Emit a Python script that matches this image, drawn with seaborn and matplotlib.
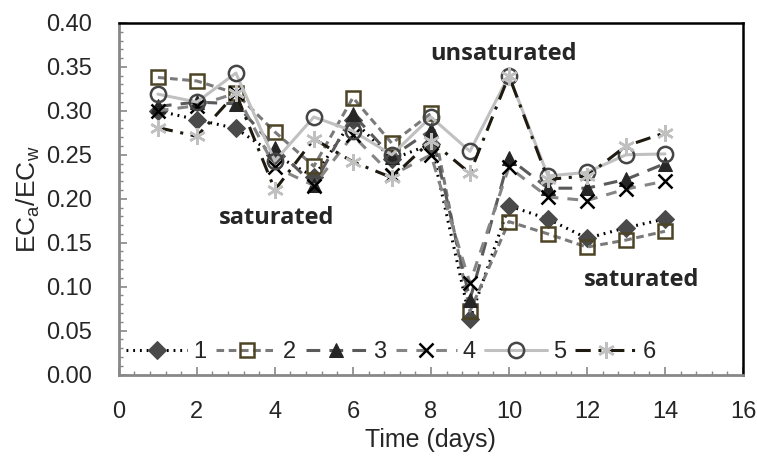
import matplotlib
matplotlib.use("Agg")
import matplotlib.pyplot as plt
from matplotlib.ticker import MultipleLocator, FormatStrFormatter
import seaborn as sns
import pandas as pd

days = [1, 2, 3, 4, 5, 6, 7, 8, 9, 10, 11, 12, 13, 14]
s1 = [0.300, 0.290, 0.280, 0.250, 0.225, 0.290, 0.245, 0.262, 0.063, 0.192, 0.177, 0.155, 0.167, 0.177]
s2 = [0.338, 0.334, 0.320, 0.276, 0.237, 0.315, 0.263, 0.297, 0.072, 0.174, 0.160, 0.145, 0.153, 0.163]
s3 = [0.305, 0.310, 0.308, 0.258, 0.216, 0.296, 0.248, 0.278, 0.085, 0.246, 0.212, 0.212, 0.222, 0.240]
s4 = [0.300, 0.306, 0.320, 0.236, 0.215, 0.272, 0.227, 0.250, 0.104, 0.236, 0.202, 0.198, 0.211, 0.220]
s5 = [0.319, 0.310, 0.343, 0.243, 0.293, 0.277, 0.250, 0.293, 0.254, 0.340, 0.226, 0.230, 0.250, 0.251]
s6 = [0.281, 0.271, 0.320, 0.210, 0.268, 0.242, 0.224, 0.266, 0.229, 0.340, 0.222, 0.226, 0.260, 0.275]
labels = ["1", "2", "3", "4", "5", "6"]

sns.set_theme(style="white")
plt.rcParams["font.family"] = ["Liberation Sans", "DejaVu Sans"]

fig = plt.figure(figsize=(7.57, 4.59), dpi=100)
ax = fig.add_axes([0.157, 0.184, 0.8245, 0.766])

styles = [
    dict(color="black", linestyle=(0, (0.6, 1.6)), marker="D", markersize=9.5,
         mfc="#4a4a4a", mec="#4a4a4a", lw=2.2),
    dict(color="#7a7a7a", linestyle=(0, (2.5, 1.5)), marker="s", markersize=10,
         mfc="none", mec="#4d4425", mew=1.8, lw=2.2),
    dict(color="#5a5a5a", linestyle=(0, (4.5, 3.0)), marker="^", markersize=10,
         mfc="#262626", mec="#262626", lw=2.2),
    dict(color="#858585", linestyle=(0, (3.5, 3.0)), marker="x", markersize=10,
         mfc="black", mec="black", mew=1.8, lw=2.2),
    dict(color="#c0c0c0", linestyle="-", marker="o", markersize=11,
         mfc="none", mec="#454545", mew=1.8, lw=2.2),
    dict(color="#1f1a10", linestyle=(0, (5, 2.5, 1, 2.5)), marker=(6, 2, 0), markersize=12,
         mfc="#c0c0c0", mec="#c0c0c0", mew=1.8, lw=2.2),
]

for lab, vals, st in zip(labels, [s1, s2, s3, s4, s5, s6], styles):
    df = pd.DataFrame({"day": days, "val": vals})
    sns.lineplot(data=df, x="day", y="val", ax=ax, label=lab, **st)

ax.set_xlim(0, 16)
ax.set_ylim(0, 0.40)
ax.xaxis.set_major_locator(MultipleLocator(2))
ax.xaxis.set_minor_locator(MultipleLocator(0.4))
ax.yaxis.set_major_locator(MultipleLocator(0.05))
ax.yaxis.set_minor_locator(MultipleLocator(0.01))
ax.yaxis.set_major_formatter(FormatStrFormatter("%.2f"))
ax.tick_params(which="major", direction="in", length=6, width=1.2, color="#888888",
               labelsize=17, pad=19, bottom=True, left=True)
ax.tick_params(which="minor", direction="in", length=3, width=1.0, color="#888888",
               bottom=True, left=True)

for side in ["left", "bottom"]:
    ax.spines[side].set_color("#888888")
    ax.spines[side].set_linewidth(2)
for side in ["top", "right"]:
    ax.spines[side].set_color("black")
    ax.spines[side].set_linewidth(1.8)

ax.set_xlabel("Time (days)", fontsize=18, labelpad=4)
ax.set_ylabel(r"EC$_\mathregular{a}$/EC$_\mathregular{w}$", fontsize=19, labelpad=3)

afont = dict(fontsize=17, fontweight="bold", family=["Open Sans", "DejaVu Sans"], ha="center", va="center")
ax.text(9.85, 0.365, "unsaturated", **afont)
ax.text(4.05, 0.178, "saturated", **afont)
ax.text(13.4, 0.107, "saturated", **afont)

ax.legend(loc="center", bbox_to_anchor=(0.436, 0.064), ncol=6, frameon=False,
          fontsize=17, handlelength=2.6, handletextpad=0.25, columnspacing=0.4,
          borderaxespad=0)

fig.savefig("out.png", dpi=100)
